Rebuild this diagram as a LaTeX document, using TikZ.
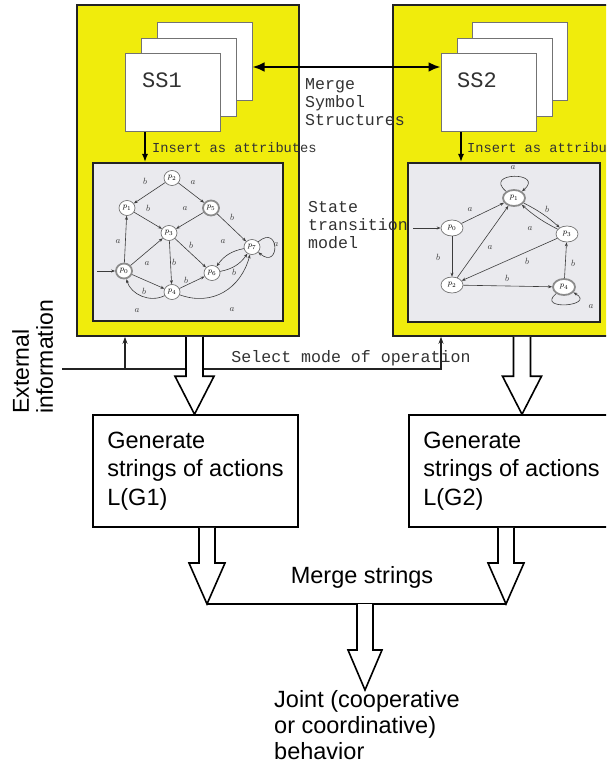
\documentclass[tikz,border=0pt]{standalone}
\usepackage[no-math]{fontspec}
\setmainfont{Liberation Sans}
\newfontfamily\monofont{Liberation Mono}
\usetikzlibrary{arrows.meta,shapes.geometric,calc}
\definecolor{panelyellow}{RGB}{240,236,12}
\definecolor{stgray}{RGB}{234,234,238}
\definecolor{dk}{RGB}{35,35,35}
\definecolor{edgegray}{RGB}{60,60,60}
\definecolor{txtgray}{RGB}{50,50,50}
\newcommand\blockarr[5]{%
  \draw[blk] let \p1=#1, \p2=#2 in
    (\x2-#3pt,\y1) -- (\x2-#3pt,\y2+#5pt) -- (\x2-#4pt,\y2+#5pt) -- (\x2,\y2)
    -- (\x2+#4pt,\y2+#5pt) -- (\x2+#3pt,\y2+#5pt) -- (\x2+#3pt,\y1);}
\begin{document}
\begin{tikzpicture}[x=1pt,y=-1pt,
  panel/.style={draw=dk, line width=1.6pt, fill=panelyellow, minimum width=222pt, minimum height=331pt, inner sep=0pt},
  sheet/.style={draw=black!55, line width=1pt, fill=white, minimum width=95pt, minimum height=78pt, inner sep=0pt},
  sslabel/.style={font=\monofont\fontsize{22}{22}\selectfont, text=txtgray, inner sep=0pt},
  stbox/.style={draw=dk, line width=2pt, fill=stgray, inner sep=0pt},
  stn/.style={ellipse, draw=black!55, line width=0.7pt, fill=white, minimum width=16pt, minimum height=15pt, inner sep=0pt, font=\fontsize{8}{8}\selectfont},
  accn/.style={stn, draw=black!45, line width=1.8pt},
  stnb/.style={stn, minimum width=22pt, minimum height=16pt},
  accnb/.style={stnb, draw=black!45, line width=1.8pt},
  ed/.style={-{Stealth[length=4pt,width=3pt]}, draw=edgegray, line width=0.6pt},
  el/.style={font=\fontsize{9}{9}\selectfont, text=edgegray, inner sep=0pt},
  mono/.style={font=\monofont\fontsize{16.6}{18}\selectfont, text=txtgray, inner sep=0pt},
  monosmall/.style={font=\monofont\fontsize{13.7}{14}\selectfont, text=txtgray, inner sep=0pt},
  sans/.style={font=\fontsize{23.5}{28.5}\selectfont, inner sep=0pt},
  gen/.style={draw=black, line width=1.5pt, fill=white, minimum width=205pt, minimum height=112pt, align=left, font=\fontsize{23.5}{28.5}\selectfont},
  blk/.style={draw=black, line width=1.6pt, fill=white, line join=miter},
  insarrow/.style={-{Latex[length=8pt,width=6pt]}, line width=1.4pt, draw=black},
  bigarrow/.style={{Latex[length=12pt,width=10pt]}-{Latex[length=12pt,width=10pt]}, line width=2.6pt, draw=black},
  extline/.style={line width=1.2pt, draw=dk},
]
\useasboundingbox (0,0) rectangle (606,767);
\clip (0,0) rectangle (606,767);

% panels
\node[panel] (P1) at (188,170.5) {};
\node[panel] (P2) at (504,170.5) {};

% symbol structure sheets
\node[sheet] (s1c) at (204.5,61.5) {};
\node[sheet] (s1b) at (188.5,77.5) {};
\node[sheet] (s1a) at (172.5,93) {};
\node[sslabel] (ss1) at (162,80) {SS1};
\node[sheet] (s2c) at (519.5,61.5) {};
\node[sheet] (s2b) at (504.5,77.5) {};
\node[sheet] (s2a) at (488.5,93) {};
\node[sslabel] (ss2) at (477,80) {SS2};

% state transition boxes
\node[stbox, minimum width=190pt, minimum height=158pt] (st1) at (188,242) {};
\node[stbox, minimum width=192pt, minimum height=159pt] (st2) at (504,242.5) {};

% merge arrow
\coordinate (my) at (0,67);
\draw[bigarrow] (s1c.east |- my) -- (s2a.west |- my);
\node[mono, anchor=west, align=left] (mss) at (305,102) {Merge\\Symbol\\Structures};

% insert arrows
\coordinate (ia1) at (145,0);
\coordinate (ia2) at (461,0);
\draw[insarrow] (s1a.south -| ia1) -- (st1.north -| ia1);
\draw[insarrow] (s2a.south -| ia2) -- (st2.north -| ia2);
\node[monosmall, anchor=west] (ins1) at (152,148) {Insert as attributes};
\node[monosmall, anchor=west] (ins2) at (467,148) {Insert as attributes};

% left state diagram
\node[stn] (p2) at (172,178) {$p_2$};
\node[stn] (p1) at (127,208) {$p_1$};
\node[accn] (p5) at (211,208) {$p_5$};
\node[stn] (p3) at (169,233) {$p_3$};
\node[stn] (p7) at (252,247) {$p_7$};
\node[accn] (p0) at (124,271) {$p_0$};
\node[stn] (p6) at (212,273) {$p_6$};
\node[stn] (p4) at (172,292) {$p_4$};
\coordinate (i1) at (97,271);
\draw[ed, line width=1pt] (i1) -- (p0);
\draw[ed] (p2) -- (p1);
\draw[ed] (p2) -- (p5);
\draw[ed] (p1) -- (p3);
\draw[ed] (p5) -- (p3);
\draw[ed] (p5) -- (p7);
\draw[ed] (p0) -- (p1);
\draw[ed] (p0) -- (p3);
\draw[ed] (p3) -- (p4);
\draw[ed] (p3) -- (p6);
\draw[ed] (p0) -- (p4);
\draw[ed] (p4) to[bend left=50] (p0);
\draw[ed] (p4) -- (p6);
\draw[ed] (p6) to[bend right=22] (p7);
\draw[ed] (p7) to[bend right=22] (p6);
\draw[ed] (p4) to[out=-20,in=-105,looseness=1.1] (p7);
\draw[ed] (p7) to[out=40,in=-40,looseness=7] (p7);
\node[el] (la1) at (145,181) {$b$};
\node[el] (la2) at (193,183) {$a$};
\node[el] (la3) at (148,208) {$b$};
\node[el] (la4) at (185,209) {$a$};
\node[el] (la5) at (232,217) {$b$};
\node[el] (la6) at (118,242) {$a$};
\node[el] (la7) at (147,264) {$a$};
\node[el] (la8) at (174,262) {$b$};
\node[el] (la9) at (191,245) {$b$};
\node[el] (la10) at (144,291) {$b$};
\node[el] (la11) at (137,311) {$a$};
\node[el] (la12) at (186,280) {$b$};
\node[el] (la13) at (223,242) {$a$};
\node[el] (la14) at (234,272) {$b$};
\node[el] (la15) at (232,310) {$a$};
\node[el] (la16) at (276,245) {$a$};

% right state diagram
\node[stnb] (q0) at (452,228) {$p_0$};
\node[accnb] (q1) at (514,198) {$p_1$};
\node[stnb] (q3) at (567,234) {$p_3$};
\node[stnb] (q2) at (452,285) {$p_2$};
\node[accnb] (q4) at (564,287) {$p_4$};
\coordinate (i2) at (413,228);
\draw[ed, line width=1pt] (i2) -- (q0);
\draw[ed] (q0) -- (q1);
\draw[ed] (q1) to[out=140,in=40,looseness=5] (q1);
\draw[ed] (q1) to[bend left=7] (q3);
\draw[ed] (q3) to[bend left=7] (q1);
\draw[ed] (q0) -- (q2);
\draw[ed] (q2) -- (q1);
\draw[ed] (q3) -- (q2);
\draw[ed] (q2) -- (q4);
\draw[ed] (q4) -- (q3);
\draw[ed] (q4) to[out=-140,in=-30,looseness=4] (q4);
\node[el] (lb1) at (470,210) {$a$};
\node[el] (lb2) at (513,168) {$a$};
\node[el] (lb3) at (547,209) {$b$};
\node[el] (lb4) at (530,229) {$a$};
\node[el] (lb5) at (438,257) {$b$};
\node[el] (lb6) at (490,248) {$a$};
\node[el] (lb7) at (527,261) {$b$};
\node[el] (lb8) at (507,278) {$b$};
\node[el] (lb9) at (573,263) {$b$};
\node[el] (lb10) at (591,307) {$a$};

\node[mono, anchor=west, align=left] (stm) at (308,225) {State\\transition\\model};

% external information
\node[sans, rotate=90, anchor=north west, align=left, font=\fontsize{23}{24}\selectfont] (ext) at (12,414) {External\\information};
\coordinate (exl) at (62,369);
\coordinate (ea1) at (125,0);
\coordinate (ea2) at (441,0);
\draw[extline, -{Stealth[length=7pt,width=5pt]}] (exl) -- (exl -| ea2) -- (P2.south -| ea2);
\draw[extline, -{Stealth[length=7pt,width=5pt]}] (exl -| ea1) -- (P1.south -| ea1);
\node[mono] (sel) at (351,358) {Select mode of operation};

% generate boxes
\node[gen] (g1) at (195.5,471) {Generate\\strings of actions\\L(G1)};
\node[gen] (g2) at (511.5,471) {Generate\\strings of actions\\L(G2)};

% block arrows
\coordinate (c1) at (194.5,0);
\coordinate (c2) at (522,0);
\coordinate (c3) at (365,0);
\coordinate (m1) at (207,604);
\coordinate (m2) at (506,604);
\blockarr{(P1.south -| c1)}{(g1.north -| c1)}{8.5}{19.5}{38}
\blockarr{(P2.south -| c2)}{(g2.north -| c2)}{8.5}{19.5}{38}
\blockarr{(g1.south -| m1)}{(m1)}{8}{18}{41}
\blockarr{(g2.south -| m2)}{(m2)}{8}{18}{41}
\draw[line width=2.2pt] (m1) -- (m2);
\node[sans] (ms) at (362,577) {Merge strings};
\node[sans, anchor=north west, align=left, font=\fontsize{23.5}{26}\selectfont] (jt) at (274,690) {Joint (cooperative\\or coordinative)\\behavior};
\blockarr{(m1 -| c3)}{(jt.north -| c3)}{8}{17}{40}
\end{tikzpicture}
\end{document}
